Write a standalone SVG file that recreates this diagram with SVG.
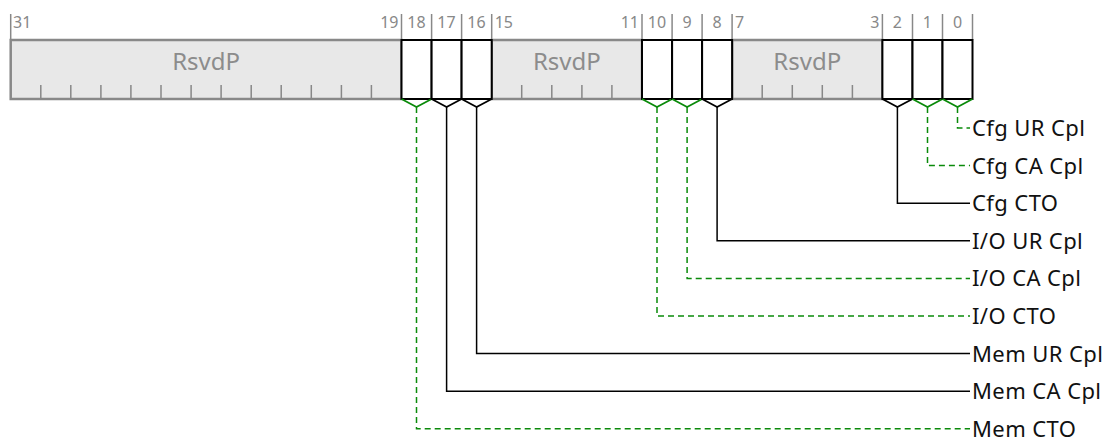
<svg xmlns="http://www.w3.org/2000/svg" width="1113" height="438" viewBox="0 0 1113 438">
<style>
text{font-family:"Noto Sans","Liberation Sans",sans-serif}
.num{font-size:16px;fill:#888}
.rsv{font-size:24px;fill:#8c8c8c;text-anchor:middle}
.lbl{font-size:22px;fill:#111;letter-spacing:0.4px}
.sep{stroke:#888;stroke-width:1.5}
.tick{stroke:#888;stroke-width:1.5}
.rbox{fill:#e8e8e8;stroke:#888;stroke-width:2.5}
.bbox{fill:#fff;stroke:#000;stroke-width:2}
.vb{fill:none;stroke:#000;stroke-width:1.8}
.vg{fill:none;stroke:#0a8a0a;stroke-width:1.8}
.cb{fill:none;stroke:#000;stroke-width:1.5}
.cg{fill:none;stroke:#0a8a0a;stroke-width:1.5;stroke-dasharray:6,4}
</style>
<g id="bitnumbers">
<g class="sep">
<line x1="10.7" y1="14" x2="10.7" y2="40"/>
<line x1="401.5" y1="14" x2="401.5" y2="40"/>
<line x1="431.6" y1="14" x2="431.6" y2="40"/>
<line x1="461.6" y1="14" x2="461.6" y2="40"/>
<line x1="491.7" y1="14" x2="491.7" y2="40"/>
<line x1="642" y1="14" x2="642" y2="40"/>
<line x1="672.1" y1="14" x2="672.1" y2="40"/>
<line x1="702.1" y1="14" x2="702.1" y2="40"/>
<line x1="732.1" y1="14" x2="732.1" y2="40"/>
<line x1="882.4" y1="14" x2="882.4" y2="40"/>
<line x1="912.5" y1="14" x2="912.5" y2="40"/>
<line x1="942.5" y1="14" x2="942.5" y2="40"/>
<line x1="972.5" y1="14" x2="972.5" y2="40"/>
</g>
<text class="num" x="13" y="28">31</text>
<text class="num" x="398.5" y="28" text-anchor="end">19</text>
<text class="num" x="416.4" y="28" text-anchor="middle">18</text>
<text class="num" x="446.5" y="28" text-anchor="middle">17</text>
<text class="num" x="476.5" y="28" text-anchor="middle">16</text>
<text class="num" x="494.7" y="28">15</text>
<text class="num" x="639" y="28" text-anchor="end">11</text>
<text class="num" x="656.9" y="28" text-anchor="middle">10</text>
<text class="num" x="687" y="28" text-anchor="middle">9</text>
<text class="num" x="717" y="28" text-anchor="middle">8</text>
<text class="num" x="735" y="28">7</text>
<text class="num" x="879.4" y="28" text-anchor="end">3</text>
<text class="num" x="897.4" y="28" text-anchor="middle">2</text>
<text class="num" x="927.4" y="28" text-anchor="middle">1</text>
<text class="num" x="957.5" y="28" text-anchor="middle">0</text>
</g>
<g id="rsvd_31_19">
<rect class="rbox" x="10.7" y="40" width="390.8" height="59"/>
<path class="tick" d="M40.8 85V99M70.8 85V99M100.9 85V99M130.9 85V99M161 85V99M191.1 85V99M221.1 85V99M251.2 85V99M281.2 85V99M311.3 85V99M341.4 85V99M371.4 85V99"/>
<text class="rsv" x="206.1" y="70">RsvdP</text>
</g>
<g id="rsvd_15_11">
<rect class="rbox" x="491.7" y="40" width="150.3" height="59"/>
<path class="tick" d="M521.7 85V99M551.8 85V99M581.9 85V99M611.9 85V99"/>
<text class="rsv" x="566.9" y="70">RsvdP</text>
</g>
<g id="rsvd_7_3">
<rect class="rbox" x="732.1" y="40" width="150.3" height="59"/>
<path class="tick" d="M762.2 85V99M792.3 85V99M822.3 85V99M852.4 85V99"/>
<text class="rsv" x="807.3" y="70">RsvdP</text>
</g>
<g id="bit18"><rect class="bbox" x="401.5" y="40" width="30.1" height="59"/><path class="vg" d="M401.5 99L416.5 107L431.6 99"/></g>
<g id="bit17"><rect class="bbox" x="431.6" y="40" width="30" height="59"/><path class="vb" d="M431.6 99L446.6 107L461.6 99"/></g>
<g id="bit16"><rect class="bbox" x="461.6" y="40" width="30.1" height="59"/><path class="vb" d="M461.6 99L476.6 107L491.7 99"/></g>
<g id="bit10"><rect class="bbox" x="642" y="40" width="30.1" height="59"/><path class="vg" d="M642 99L657 107L672.1 99"/></g>
<g id="bit9"><rect class="bbox" x="672.1" y="40" width="30" height="59"/><path class="vg" d="M672.1 99L687.1 107L702.1 99"/></g>
<g id="bit8"><rect class="bbox" x="702.1" y="40" width="30" height="59"/><path class="vb" d="M702.1 99L717.1 107L732.1 99"/></g>
<g id="bit2"><rect class="bbox" x="882.4" y="40" width="30.1" height="59"/><path class="vb" d="M882.4 99L897.4 107L912.5 99"/></g>
<g id="bit1"><rect class="bbox" x="912.5" y="40" width="30" height="59"/><path class="vg" d="M912.5 99L927.5 107L942.5 99"/></g>
<g id="bit0"><rect class="bbox" x="942.5" y="40" width="30" height="59"/><path class="vg" d="M942.5 99L957.5 107L972.5 99"/></g>
<g id="connectors">
<path class="cg" d="M957.5 107V128H970"/>
<path class="cg" d="M927.5 107V165.6H970"/>
<path class="cb" d="M897.4 107V203.2H970"/>
<path class="cb" d="M717.1 107V240.8H970"/>
<path class="cg" d="M687.1 107V278.4H970"/>
<path class="cg" d="M657 107V316H970"/>
<path class="cb" d="M476.6 107V353.6H970"/>
<path class="cb" d="M446.6 107V391.2H970"/>
<path class="cg" d="M416.5 107V428.8H970"/>
</g>
<g id="labels">
<text class="lbl" x="972" y="136">Cfg UR Cpl</text>
<text class="lbl" x="972" y="173.6">Cfg CA Cpl</text>
<text class="lbl" x="972" y="211.2">Cfg CTO</text>
<text class="lbl" x="972" y="248.8">I/O UR Cpl</text>
<text class="lbl" x="972" y="286.4">I/O CA Cpl</text>
<text class="lbl" x="972" y="324">I/O CTO</text>
<text class="lbl" x="972" y="361.6">Mem UR Cpl</text>
<text class="lbl" x="972" y="399.2">Mem CA Cpl</text>
<text class="lbl" x="972" y="436.5">Mem CTO</text>
</g>
</svg>
